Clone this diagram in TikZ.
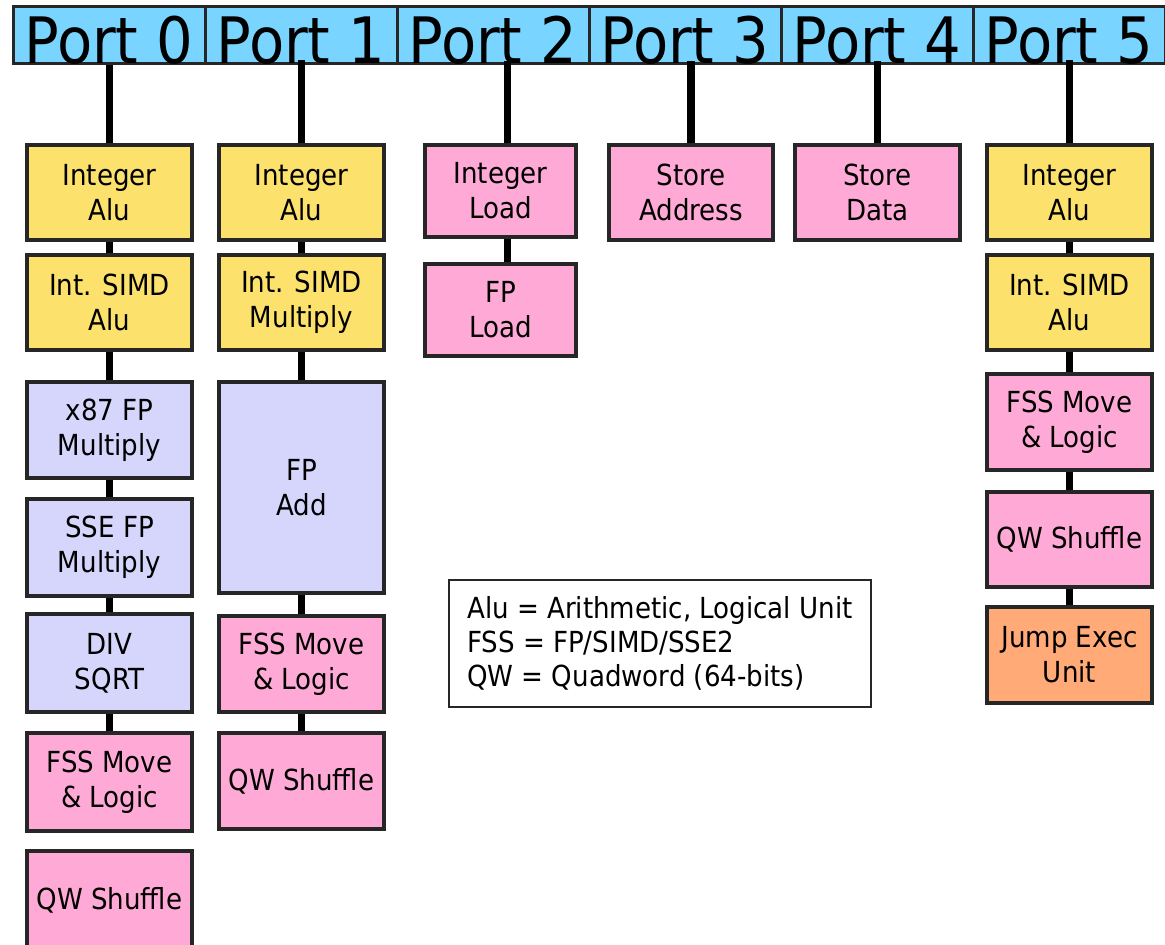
\documentclass[tikz,border=0pt]{standalone}
\usepackage{fontspec}
\setmainfont{DejaVu Sans Condensed}
\begin{document}
\begin{tikzpicture}[x=1pt,y=-1pt,
  port/.style={draw=black!85,line width=3pt,fill=portblue,minimum width=192pt,minimum height=56pt,inner sep=0pt,
    font=\fontsize{64}{70}\selectfont,text height=57pt,text depth=0pt},
  unitbox/.style={draw=black!85,line width=3.2pt,inner sep=0pt,align=center,font=\fontsize{29}{35}\selectfont},
  intbox/.style={unitbox,fill=unityellow},
  fpbox/.style={unitbox,fill=unitlav},
  pinkbox/.style={unitbox,fill=unitpink},
  jumpbox/.style={unitbox,fill=unitorange},
  conn/.style={line width=7.5pt,black},
  legend/.style={draw=black!85,line width=2.5pt,fill=white,inner sep=0pt,minimum width=422pt,minimum height=127pt}
]
\definecolor{portblue}{HTML}{79D5FF}
\definecolor{unityellow}{HTML}{FCE16C}
\definecolor{unitlav}{HTML}{D6D6FC}
\definecolor{unitpink}{HTML}{FFAAD6}
\definecolor{unitorange}{HTML}{FFAA77}
\useasboundingbox (0,0) rectangle (1165,945);
\fill[white] (0,0) rectangle (1165,945);

% port bar
\node[port] (p0) at (109,35) {Port 0};
\node[port] (p1) at (301,35) {Port 1};
\node[port] (p2) at (493,35) {Port 2};
\node[port] (p3) at (685,35) {Port 3};
\node[port] (p4) at (877,35) {Port 4};
\node[port] (p5) at (1069,35) {Port 5};

% column 0
\node[intbox,minimum width=165pt,minimum height=95pt] (a0) at (109.5,192.5) {Integer\\Alu};
\node[intbox,minimum width=165pt,minimum height=95pt] (a1) at (109.5,302.5) {Int. SIMD\\Alu};
\node[fpbox,minimum width=165pt,minimum height=96pt] (a2) at (109.5,430) {x87 FP\\Multiply};
\node[fpbox,minimum width=165pt,minimum height=97pt] (a3) at (109.5,547.5) {SSE FP\\Multiply};
\node[fpbox,minimum width=165pt,minimum height=98pt] (a4) at (109.5,663) {DIV\\SQRT};
\node[pinkbox,minimum width=165pt,minimum height=98pt] (a5) at (109.5,782) {FSS Move\\\& Logic};
\node[pinkbox,minimum width=165pt,minimum height=98pt] (a6) at (109.5,900) {QW Shuffle};

% column 1
\node[intbox,minimum width=165pt,minimum height=95pt] (b0) at (301.5,192.5) {Integer\\Alu};
\node[intbox,minimum width=165pt,minimum height=95pt] (b1) at (301.5,302.5) {Int. SIMD\\Multiply};
\node[fpbox,minimum width=165pt,minimum height=211pt] (b2) at (301.5,487.5) {FP\\Add};
\node[pinkbox,minimum width=165pt,minimum height=96pt] (b3) at (301.5,664) {FSS Move\\\& Logic};
\node[pinkbox,minimum width=165pt,minimum height=96pt] (b4) at (301.5,781) {QW Shuffle};

% column 2
\node[pinkbox,minimum width=151pt,minimum height=92pt] (c0) at (500.5,191) {Integer\\Load};
\node[pinkbox,minimum width=151pt,minimum height=92pt] (c1) at (500.5,310) {FP\\Load};

% column 3, 4
\node[pinkbox,minimum width=164pt,minimum height=95pt] (d0) at (691,192.5) {Store\\Address};
\node[pinkbox,minimum width=165pt,minimum height=95pt] (e0) at (877.5,192.5) {Store\\Data};

% column 5
\node[intbox,minimum width=165pt,minimum height=95pt] (f0) at (1069.5,192.5) {Integer\\Alu};
\node[intbox,minimum width=165pt,minimum height=95pt] (f1) at (1069.5,302.5) {Int. SIMD\\Alu};
\node[pinkbox,minimum width=165pt,minimum height=96pt] (f2) at (1069.5,422) {FSS Move\\\& Logic};
\node[pinkbox,minimum width=165pt,minimum height=95pt] (f3) at (1069.5,539.5) {QW Shuffle};
\node[jumpbox,minimum width=165pt,minimum height=96pt] (f4) at (1069.5,655) {Jump Exec\\Unit};

% legend
\node[legend] (lg) at (660,643.5) {};
\node[anchor=west,align=left,inner sep=0pt,font=\fontsize{29}{34}\selectfont] (lgt) at (467,643.5)
  {Alu = Arithmetic, Logical Unit\\FSS = FP/SIMD/SSE2\\QW = Quadword (64-bits)};

% connectors from ports
\draw[conn] (p0.south -| a0.north) -- (a0.north);
\draw[conn] ([yshift=5pt]p1.south -| b0.north) -- (b0.north);
\draw[conn] ([xshift=7pt,yshift=4pt]p2.south -| c0.north) -- ([xshift=7pt]c0.north);
\draw[conn] ([yshift=4pt]p3.south -| d0.north) -- (d0.north);
\draw[conn] ([yshift=4pt]p4.south -| e0.north) -- (e0.north);
\draw[conn] ([yshift=5pt]p5.south -| f0.north) -- (f0.north);

% connectors between units
\draw[conn] (a0.south) -- (a1.north);
\draw[conn] (a1.south) -- (a2.north);
\draw[conn] (a2.south) -- (a3.north);
\draw[conn] (a3.south) -- (a4.north);
\draw[conn] (a4.south) -- (a5.north);
\draw[conn] (b0.south) -- (b1.north);
\draw[conn] (b1.south) -- (b2.north);
\draw[conn] (b2.south) -- (b3.north);
\draw[conn] (b3.south) -- (b4.north);
\draw[conn] ([xshift=7pt]c0.south) -- ([xshift=7pt]c1.north);
\draw[conn] (f0.south) -- (f1.north);
\draw[conn] (f1.south) -- (f2.north);
\draw[conn] (f2.south) -- (f3.north);
\draw[conn] (f3.south) -- (f4.north);
\end{tikzpicture}
\end{document}
